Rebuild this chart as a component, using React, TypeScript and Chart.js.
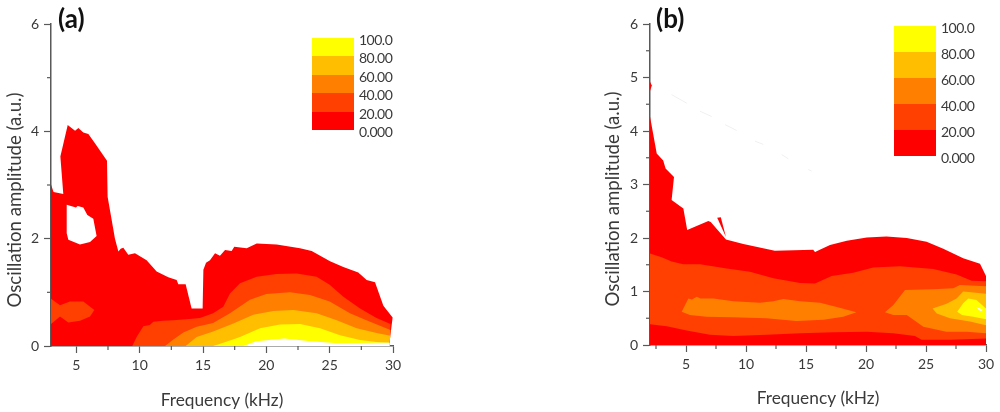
import { useEffect, useRef } from "react"
import { Chart, registerables } from "chart.js"

Chart.register(...registerables)

type Pt = [number, number]

const levelColors = ["#FFFF00", "#FFBF00", "#FF8000", "#FF4000", "#FF0000"]
const levelLabels = ["100.0", "80.00", "60.00", "40.00", "20.00", "0.000"]
const RED = "#FF0000"
const ORANGE_RED = "#FF4000"
const ORANGE = "#FF8000"
const AMBER = "#FFBF00"
const YELLOW = "#FFFF00"
const WHITE = "#FFFFFF"

// panel (a) contours, [kHz, amplitude]
const aRed: Pt[] = [
  [3, 3.01], [3.2, 2.87], [3.97, 2.83], [3.74, 3.53], [4.32, 4.12], [4.9, 4.01], [5.16, 4.06], [5.55, 3.98],
  [5.95, 3.95], [6.47, 3.78], [7.42, 3.45], [7.47, 2.78], [8.05, 2.0], [8.32, 1.76], [8.5, 1.81], [8.71, 1.83],
  [9.1, 1.7], [9.63, 1.73], [10.55, 1.6], [11.34, 1.39], [12.26, 1.28], [12.92, 1.23], [13.05, 1.15], [13.63, 1.15],
  [14.1, 0.7], [14.97, 0.7], [15.03, 1.42], [15.24, 1.55], [15.55, 1.6], [15.95, 1.73], [16.34, 1.68], [16.74, 1.79],
  [17.26, 1.77], [17.47, 1.85], [18.45, 1.82], [19.24, 1.91], [20.82, 1.89], [22.66, 1.82], [23.58, 1.77], [25.03, 1.58],
  [26.08, 1.47], [27.26, 1.37], [27.92, 1.23], [28.58, 1.19], [29.24, 0.75], [29.97, 0.53], [29.72, 0.06], [29.72, 0], [3, 0],
]
const aHole: Pt[] = [
  [4.24, 2.63], [4.97, 2.58], [5.1, 2.61], [5.55, 2.58], [5.87, 2.44], [6.34, 2.37], [6.6, 2.05], [6.08, 1.94],
  [5.29, 1.89], [4.37, 1.98], [4.24, 2.1],
]
const aIsland: Pt[] = [
  [3, 0.88], [3.71, 0.76], [4.5, 0.83], [5.55, 0.83], [6.42, 0.67], [6.08, 0.55], [5.29, 0.47], [4.37, 0.44],
  [3.71, 0.55], [3, 0.41],
]
const aBand20: Pt[] = [
  [9.42, 0], [9.76, 0.17], [10.29, 0.37], [10.8, 0.39], [11.08, 0.45], [11.87, 0.47], [12.66, 0.48], [13.7, 0.5],
  [14.76, 0.52], [15.8, 0.61], [16.6, 0.73], [17.13, 0.98], [17.92, 1.17], [19.24, 1.29], [20.8, 1.34], [22.4, 1.35],
  [23.97, 1.29], [25, 1.14], [26.08, 0.92], [27.4, 0.7], [28.7, 0.52], [29.8, 0.41], [29.72, 0.06], [29.72, 0],
]
const aBand40: Pt[] = [
  [12, 0], [12.66, 0.12], [13.45, 0.25], [14.5, 0.36], [15.8, 0.43], [17.13, 0.61], [18.7, 0.86], [20, 0.97],
  [21.87, 1.0], [23.45, 0.95], [25, 0.83], [26.6, 0.61], [27.9, 0.48], [29.8, 0.3], [29.72, 0.06], [29.72, 0],
]
const aBand60: Pt[] = [
  [13.63, 0], [14.5, 0.17], [15.8, 0.27], [17.4, 0.42], [18.97, 0.58], [20.55, 0.65], [22.13, 0.67], [23.97, 0.61],
  [25.55, 0.48], [27.13, 0.33], [28.7, 0.24], [29.8, 0.19], [29.72, 0.06], [29.72, 0],
]
const aBand80: Pt[] = [
  [15.8, 0], [16.6, 0.06], [17.92, 0.17], [19.5, 0.33], [21.08, 0.4], [22.66, 0.41], [24.24, 0.33], [25.82, 0.2],
  [27.4, 0.11], [28.84, 0.07], [29.72, 0.06], [29.72, 0],
]
const aUnder: Pt[] = [
  [18.2, 0], [19.2, 0.09], [21.4, 0.14], [23.5, 0.09], [25.6, 0.05], [28.9, 0.06], [29.72, 0.06], [29.72, 0],
]

// panel (b) contours
const bRed: Pt[] = [
  [2, 4.27], [2.56, 3.58], [3.1, 3.45], [3.3, 3.3], [4.0, 3.14], [3.8, 2.71], [4.78, 2.55], [5.1, 2.15],
  [6.86, 2.32], [7.06, 2.3], [8.33, 1.97], [9.78, 1.89], [12.4, 1.76], [15.6, 1.78], [15.75, 1.74], [17, 1.87],
  [18.4, 1.95], [20.06, 2.01], [21.7, 2.03], [23.4, 2.0], [25.05, 1.93], [26.44, 1.8], [28.1, 1.62], [29.5, 1.52],
  [30, 1.29], [30, 0], [2, 0],
]
const bSliver: Pt[] = [[7.6, 2.38], [7.9, 2.39], [8.33, 2.02]]
const bSpeck: Pt[] = [[2, 4.92], [2.15, 4.85], [2, 4.75]]
const bBand20: Pt[] = [
  [2, 1.71], [2.97, 1.64], [3.8, 1.56], [4.78, 1.51], [6.17, 1.51], [8.39, 1.43], [10.33, 1.37], [12.28, 1.25],
  [14.5, 1.16], [15.75, 1.15], [17.14, 1.29], [18.94, 1.35], [20.6, 1.45], [22.83, 1.47], [25.6, 1.42], [27.55, 1.32],
  [28.8, 1.2], [30, 1.19], [30, 0.12], [27, 0.1], [24.64, 0.1], [24.08, 0.17], [22.28, 0.22], [20.06, 0.25],
  [17.28, 0.24], [14.5, 0.22], [11.72, 0.19], [8.94, 0.17], [7, 0.19], [5.06, 0.27], [3.4, 0.35], [2, 0.39],
]
const bBand40Left: Pt[] = [
  [4.64, 0.62], [5.2, 0.87], [5.5, 0.85], [5.9, 0.9], [6.2, 0.87], [7.28, 0.87], [8.94, 0.82], [11.17, 0.79],
  [12.28, 0.82], [13.1, 0.86], [14.5, 0.82], [16.17, 0.79], [17.56, 0.71], [19.2, 0.61], [18.1, 0.53], [16.44, 0.47],
  [14.2, 0.45], [11.72, 0.5], [8.94, 0.52], [6.72, 0.53], [5.33, 0.56],
]
const bBand40Right: Pt[] = [
  [21.58, 0.61], [22.28, 0.75], [23.25, 1.03], [25.6, 1.04], [27.28, 1.06], [27.83, 1.12], [30, 1.1], [30, 0.22],
  [28.4, 0.25], [26.7, 0.25], [24.78, 0.34], [23.4, 0.56], [22.28, 0.56],
]
const bBand60: Pt[] = [
  [25.55, 0.68], [26.72, 0.77], [27.55, 0.87], [28.1, 1.0], [30, 0.96], [30, 0.37], [28.67, 0.44], [27, 0.5], [25.9, 0.59],
]
const bBand80: Pt[] = [
  [27.6, 0.62], [28.1, 0.78], [28.53, 0.87], [29.2, 0.84], [30, 0.68], [30, 0.48], [28.94, 0.53], [28, 0.56],
]
const bWhite: Pt[] = [[29.15, 0.71], [29.75, 0.66], [29.55, 0.63]]
// barely visible dashes left in the white part of (b)
const bFaint: Pt[][] = [
  [[3.8, 4.68], [5.06, 4.52]],
  [[6.17, 4.37], [7.14, 4.27]],
  [[8.25, 4.12], [9.22, 4.01]],
  [[10.75, 3.81], [11.44, 3.75]],
  [[12.97, 3.56], [13.53, 3.48]],
  [[15.19, 3.28], [15.47, 3.25]],
]

// painted back to front
const aLayers: [Pt[], string][] = [
  [aRed, RED], [aHole, WHITE], [aIsland, ORANGE_RED], [aBand20, ORANGE_RED], [aBand40, ORANGE],
  [aBand60, AMBER], [aBand80, YELLOW], [aUnder, WHITE],
]
const bLayers: [Pt[], string][] = [
  [bRed, RED], [bSliver, RED], [bSpeck, RED], [bBand20, ORANGE_RED], [bBand40Left, ORANGE], [bBand40Right, ORANGE],
  [bBand60, AMBER], [bBand80, YELLOW], [bWhite, WHITE],
]

const xTicksA = [5, 10, 15, 20, 25, 30]
const xMinorA = [7.5, 12.5, 17.5, 22.5, 27.5]
const yTicksA = [0, 2, 4, 6]
const yMinorA = [1, 3, 5]
const xTicksB = [5, 10, 15, 20, 25, 30]
const xMinorB = [2.5, 7.5, 12.5, 17.5, 22.5, 27.5]
const yTicksB = [0, 1, 2, 3, 4, 5, 6]
const yMinorB = [0.5, 1.5, 2.5, 3.5, 4.5, 5.5]

const FONT = "Lato, 'Open Sans', sans-serif"
const AXIS = "#595959"
const TEXT = "#3a3a3a"

type PanelProps = {
  left: number
  layers: [Pt[], string][]
  faint?: Pt[][]
  xMin: number
  xTicks: number[]
  xMinor: number[]
  yTicks: number[]
  yMinor: number[]
  area: { left: number; right: number; top: number; bottom: number }
  titlePad: number
}

function Panel({ left, layers, faint = [], xMin, xTicks, xMinor, yTicks, yMinor, area, titlePad }: PanelProps) {
  const chartRef = useRef<HTMLCanvasElement>(null)

  useEffect(() => {
    if (!chartRef.current) return
    const W = 500
    const H = 412

    const minorTicks = {
      id: "minorTicks",
      afterDraw(chart: any) {
        const { ctx, scales } = chart
        ctx.save()
        ctx.strokeStyle = AXIS
        ctx.lineWidth = 1.2
        xMinor.forEach((v) => {
          const px = scales.x.getPixelForValue(v)
          ctx.beginPath()
          ctx.moveTo(px, area.bottom)
          ctx.lineTo(px, area.bottom + 4)
          ctx.stroke()
        })
        yMinor.forEach((v) => {
          const py = scales.y.getPixelForValue(v)
          ctx.beginPath()
          ctx.moveTo(area.left, py)
          ctx.lineTo(area.left - 4, py)
          ctx.stroke()
        })
        ctx.restore()
      },
    }

    // chart.js paints the first dataset on top, so the list goes in reversed
    const fills = [...layers].reverse().map(([pts, color]) => ({
      data: pts.map(([x, y]) => ({ x, y })),
      showLine: true,
      fill: "shape",
      backgroundColor: color,
      borderWidth: 0,
      pointRadius: 0,
      pointHoverRadius: 0,
      tension: 0,
    }))
    const dashes = faint.map((pts) => ({
      data: pts.map(([x, y]) => ({ x, y })),
      showLine: true,
      fill: false,
      borderColor: "#F0F0F0",
      borderWidth: 1,
      pointRadius: 0,
      pointHoverRadius: 0,
    }))

    const chart = new Chart(chartRef.current, {
      type: "scatter",
      data: { datasets: [...dashes, ...fills] },
      options: {
        responsive: false,
        animation: false,
        layout: { padding: { left: 0, top: area.top, right: W - area.right, bottom: 0 } },
        plugins: { legend: { display: false }, tooltip: { enabled: false } },
        scales: {
          x: {
            type: "linear",
            min: xMin,
            max: 30,
            afterBuildTicks: (axis: any) => {
              axis.ticks = xTicks.map((value) => ({ value }))
            },
            afterFit: (axis: any) => {
              axis.height = H - area.bottom
            },
            border: { color: AXIS, width: 1.5 },
            grid: { drawOnChartArea: false, tickLength: 7, tickColor: AXIS, tickWidth: 1.2 },
            ticks: { color: TEXT, font: { family: FONT, size: 14 }, padding: 4, maxRotation: 0, autoSkip: false },
            title: {
              display: true,
              text: "Frequency (kHz)",
              color: TEXT,
              font: { family: FONT, size: 17.3 },
              padding: { top: 0, bottom: titlePad },
            },
          },
          y: {
            type: "linear",
            min: 0,
            max: 6,
            afterBuildTicks: (axis: any) => {
              axis.ticks = yTicks.map((value) => ({ value }))
            },
            afterFit: (axis: any) => {
              axis.width = area.left
            },
            border: { color: AXIS, width: 1.5 },
            grid: { drawOnChartArea: false, tickLength: 7, tickColor: AXIS, tickWidth: 1.2 },
            ticks: { color: TEXT, font: { family: FONT, size: 14 }, padding: 5, autoSkip: false },
          },
        },
      },
      plugins: [minorTicks],
    } as any)

    return () => chart.destroy()
  }, [])

  return (
    <canvas
      ref={chartRef}
      width={500}
      height={412}
      style={{ position: "absolute", left, top: 0, width: 500, height: 412 }}
    />
  )
}

function ColorBar({ x, y, width, step, labelX, labelY }: { x: number; y: number; width: number; step: number; labelX: number; labelY: number }) {
  return (
    <>
      {levelColors.map((c, i) => (
        <div key={c} style={{ position: "absolute", left: x, top: y + i * step, width, height: step, background: c }} />
      ))}
      {levelLabels.map((t, i) => (
        <div
          key={t}
          style={{ position: "absolute", left: labelX, top: labelY + i * step - 10, height: 20, lineHeight: "20px", fontFamily: FONT, fontSize: 14, letterSpacing: -0.5, color: TEXT }}
        >
          {t}
        </div>
      ))}
    </>
  )
}

function Label({ x, y, text }: { x: number; y: number; text: string }) {
  return (
    <div style={{ position: "absolute", left: x, top: y, fontFamily: FONT, fontWeight: 700, fontSize: 26, lineHeight: "30px", color: "#111" }}>
      {text}
    </div>
  )
}

function YTitle({ cx, cy }: { cx: number; cy: number }) {
  return (
    <div
      style={{
        position: "absolute",
        left: cx - 150,
        top: cy - 12,
        width: 300,
        height: 24,
        lineHeight: "24px",
        textAlign: "center",
        transform: "rotate(-90deg)",
        fontFamily: FONT,
        fontSize: 18.6,
        color: TEXT,
      }}
    >
      Oscillation amplitude (a.u.)
    </div>
  )
}

export default function App() {
  return (
    <div style={{ position: "absolute", left: 0, top: 0, width: 1000, height: 412, background: "#fff", overflow: "hidden", filter: "blur(0.4px)" }}>
      <Panel
        left={0}
        layers={aLayers}
        xMin={3}
        xTicks={xTicksA}
        xMinor={xMinorA}
        yTicks={yTicksA}
        yMinor={yMinorA}
        area={{ left: 51, right: 393, top: 24, bottom: 346 }}
        titlePad={1}
      />
      <Panel
        left={500}
        layers={bLayers}
        faint={bFaint}
        xMin={2}
        xTicks={xTicksB}
        xMinor={xMinorB}
        yTicks={yTicksB}
        yMinor={yMinorB}
        area={{ left: 150, right: 486, top: 24, bottom: 345 }}
        titlePad={3}
      />
      <Label x={58} y={3} text="(a)" />
      <Label x={656} y={3} text="(b)" />
      <YTitle cx={14} cy={200} />
      <YTitle cx={612} cy={199} />
      <ColorBar x={312} y={38} width={42} step={18.4} labelX={359} labelY={40} />
      <ColorBar x={894} y={26} width={42} step={26} labelX={941} labelY={28} />
    </div>
  )
}
